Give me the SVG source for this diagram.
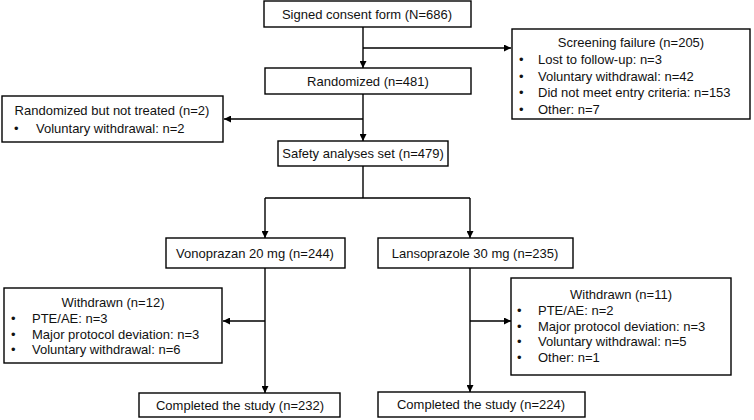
<svg xmlns="http://www.w3.org/2000/svg" width="754" height="420" viewBox="0 0 754 420">
<defs>
<marker id="ah" viewBox="0 0 10 10" refX="10" refY="5" markerWidth="7" markerHeight="7" markerUnits="userSpaceOnUse" orient="auto">
<path d="M0,0 L10,5 L0,10 z" fill="#000"/>
</marker>
<style>
rect{fill:#fff;stroke:#000;stroke-width:1.4}
text{font-family:"Liberation Sans","Open Sans",sans-serif;font-size:13px;fill:#111}
.c{text-anchor:middle}
#connectors path{fill:none;stroke:#000;stroke-width:1.4}
.a{marker-end:url(#ah)}
</style>
</defs>
<rect x="0" y="0" width="754" height="420" style="fill:#fff;stroke:none"/>
<g id="connectors">
<path class="a" d="M363,27 V68"/>
<path class="a" d="M363,48 H511"/>
<path class="a" d="M363,94 V141"/>
<path class="a" d="M363,119 H224"/>
<path d="M363,166 V198 M265,198 H470"/>
<path class="a" d="M265,198 V238"/>
<path class="a" d="M470,198 V238"/>
<path class="a" d="M265,268 V393"/>
<path class="a" d="M265,321 H223"/>
<path class="a" d="M470,268 V392"/>
<path class="a" d="M470,321 H511"/>
</g>
<g id="signed"><rect x="264" y="1" width="207" height="26"/><text class="c" x="367" y="19">Signed consent form (N=686)</text></g>
<g id="screening"><rect x="512" y="29" width="238" height="90"/>
<text class="c" x="631" y="47">Screening failure (n=205)</text>
<text x="519" y="64">•</text><text x="538" y="64">Lost to follow-up: n=3</text>
<text x="519" y="80.5">•</text><text x="538" y="80.5">Voluntary withdrawal: n=42</text>
<text x="519" y="97">•</text><text x="538" y="97">Did not meet entry criteria: n=153</text>
<text x="519" y="113.5">•</text><text x="538" y="113.5">Other: n=7</text>
</g>
<g id="randomized"><rect x="265" y="68" width="206" height="26"/><text class="c" x="368" y="86">Randomized (n=481)</text></g>
<g id="notTreated"><rect x="2" y="96" width="221" height="46"/>
<text class="c" x="112" y="115">Randomized but not treated (n=2)</text>
<text x="14" y="133">•</text><text x="36" y="133">Voluntary withdrawal: n=2</text>
</g>
<g id="safety"><rect x="278" y="141" width="170" height="25"/><text class="c" x="363" y="158">Safety analyses set (n=479)</text></g>
<g id="vonoprazan"><rect x="166" y="238" width="179" height="30"/><text class="c" x="255" y="258">Vonoprazan 20 mg (n=244)</text></g>
<g id="lansoprazole"><rect x="378" y="238" width="195" height="30"/><text class="c" x="475" y="258">Lansoprazole 30 mg (n=235)</text></g>
<g id="withdrawnLeft"><rect x="4" y="288" width="218" height="75"/>
<text class="c" x="113" y="307">Withdrawn (n=12)</text>
<text x="11" y="323">•</text><text x="32" y="323">PTE/AE: n=3</text>
<text x="11" y="338.5">•</text><text x="32" y="338.5">Major protocol deviation: n=3</text>
<text x="11" y="354">•</text><text x="32" y="354">Voluntary withdrawal: n=6</text>
</g>
<g id="withdrawnRight"><rect x="511" y="278" width="220" height="97"/>
<text class="c" x="621" y="299">Withdrawn (n=11)</text>
<text x="517" y="315">•</text><text x="538" y="315">PTE/AE: n=2</text>
<text x="517" y="330.5">•</text><text x="538" y="330.5">Major protocol deviation: n=3</text>
<text x="517" y="346">•</text><text x="538" y="346">Voluntary withdrawal: n=5</text>
<text x="517" y="361.5">•</text><text x="538" y="361.5">Other: n=1</text>
</g>
<g id="completedLeft"><rect x="139" y="393" width="201" height="24"/><text class="c" x="240" y="410">Completed the study (n=232)</text></g>
<g id="completedRight"><rect x="378" y="392" width="207" height="25"/><text class="c" x="481" y="409">Completed the study (n=224)</text></g>
</svg>
